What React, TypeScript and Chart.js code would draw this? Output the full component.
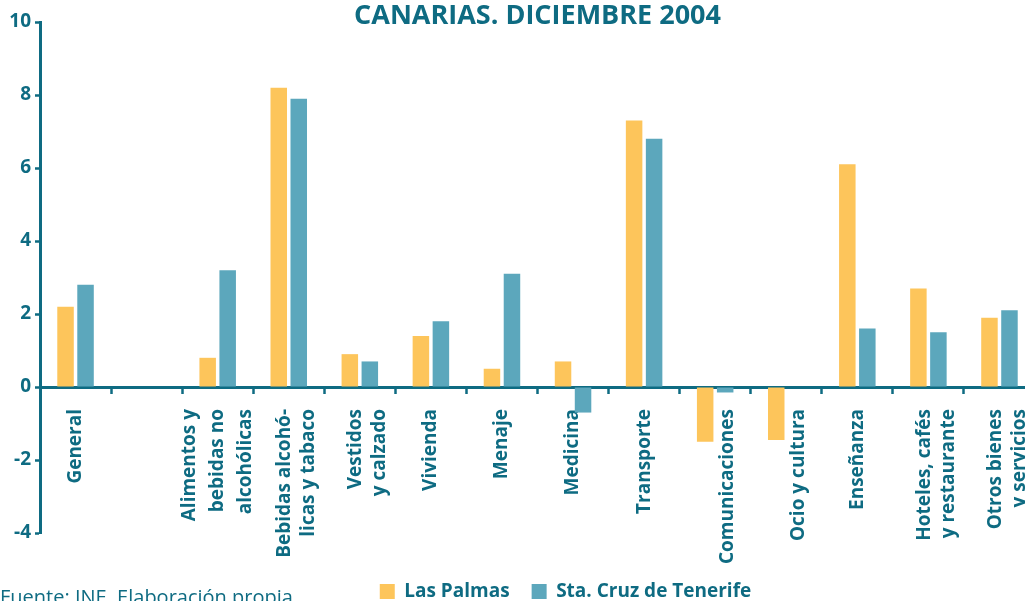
import { useEffect, useRef } from 'react';
import { Chart, registerables } from 'chart.js';

Chart.register(...registerables);

// ---- data ----
const categories: (string | string[])[] = [
  'General',
  '',
  ['Alimentos y', 'bebidas no', 'alcohólicas'],
  ['Bebidas alcohó-', 'licas y tabaco'],
  ['Vestidos', 'y calzado'],
  'Vivienda',
  'Menaje',
  'Medicina',
  'Transporte',
  'Comunicaciones',
  'Ocio y cultura',
  'Enseñanza',
  ['Hoteles, cafés', 'y restaurante'],
  ['Otros bienes', 'y servicios'],
];
const lasPalmas: (number | null)[] = [2.2, null, 0.8, 8.2, 0.9, 1.4, 0.5, 0.7, 7.3, -1.5, -1.45, 6.1, 2.7, 1.9];
const staCruz: (number | null)[] = [2.8, null, 3.2, 7.9, 0.7, 1.8, 3.1, -0.7, 6.8, -0.15, 0, 1.6, 1.5, 2.1];
const yTicks = [-4, -2, 0, 2, 4, 6, 8, 10];
const seriesNames = ['Las Palmas', 'Sta. Cruz de Tenerife'];
const titleText = 'CANARIAS. DICIEMBRE 2004';
const sourceText = 'Fuente: INE. Elaboración propia';

// ---- styles ----
const TEAL = '#0e6b82';
const YELLOW = '#fdc55b';
const BLUE = '#5ca7bc';
const FONT = "'Open Sans', 'Noto Sans', sans-serif";
const LABEL_LINE = 28;

// line spacing of the rotated category labels: two-line labels a bit tighter,
// single labels of categories whose first bar is negative are pushed past that bar
function labelLineHeight(i: number | undefined): number {
  if (i === undefined) return LABEL_LINE;
  const l = categories[i];
  const n = Array.isArray(l) ? l.length : 1;
  if (n === 2) return 24;
  if (n === 1 && (lasPalmas[i] ?? 0) < 0) return 40;
  return LABEL_LINE;
}

export default function App() {
  const ref = useRef<HTMLCanvasElement>(null);

  useEffect(() => {
    if (!ref.current) return;
    const chart = new Chart(ref.current, {
      type: 'bar',
      data: {
        labels: categories,
        datasets: [
          {
            label: seriesNames[0],
            data: lasPalmas,
            backgroundColor: YELLOW,
            borderWidth: 0,
            barPercentage: 0.825,
            categoryPercentage: 0.563,
          },
          {
            label: seriesNames[1],
            data: staCruz,
            backgroundColor: BLUE,
            borderWidth: 0,
            barPercentage: 0.825,
            categoryPercentage: 0.563,
          },
        ],
      },
      options: {
        responsive: false,
        animation: false,
        events: [],
        layout: { padding: 0 },
        scales: {
          x: {
            type: 'category',
            position: { y: 0 } as any,
            z: 1,
            offset: true,
            grid: {
              offset: true,
              drawOnChartArea: false,
              drawTicks: true,
              tickLength: 5,
              tickWidth: 2.5,
              tickColor: TEAL,
            },
            border: { display: true, color: TEAL, width: 3 },
            ticks: {
              autoSkip: false,
              maxRotation: 90,
              minRotation: 90,
              padding: 17,
              labelOffset: -LABEL_LINE,
              color: TEAL,
              font: (ctx: any) => ({
                family: FONT,
                size: 19,
                weight: 'bold',
                lineHeight: labelLineHeight(ctx && ctx.index) + 'px',
              }),
              callback: (_v: any, i: number) => {
                const l = categories[i];
                const lines = Array.isArray(l) ? l : [l];
                return lines.length >= 3 ? lines : ['', ...lines];
              },
            },
            afterFit: (s: any) => {
              s.height = 0;
            },
          },
          y: {
            position: 'left',
            min: yTicks[0],
            max: yTicks[yTicks.length - 1],
            z: 1,
            grid: {
              drawOnChartArea: false,
              drawTicks: true,
              tickLength: 5,
              tickWidth: 2.5,
              tickColor: TEAL,
            },
            border: { display: true, color: TEAL, width: 3 },
            ticks: {
              stepSize: 2,
              padding: 4,
              color: TEAL,
              font: { family: FONT, size: 19, weight: 'bold' },
            },
            afterBuildTicks: (s: any) => {
              s.ticks = yTicks.map((v) => ({ value: v }));
            },
            afterFit: (s: any) => {
              s.width = 40;
            },
          },
          spacer: {
            position: 'right',
            display: true,
            grid: { display: false },
            border: { display: false },
            ticks: { display: false },
            afterFit: (s: any) => {
              s.width = 96;
            },
          },
        },
        plugins: {
          tooltip: { enabled: false },
          title: {
            display: true,
            text: titleText,
            color: TEAL,
            fullSize: false,
            font: { family: FONT, size: 27, weight: 'bold', lineHeight: 1.2 },
            padding: { top: 0.5, bottom: -10.9 },
          },
          subtitle: {
            display: true,
            text: sourceText,
            position: 'bottom',
            align: 'start',
            fullSize: true,
            weight: 500,
            color: TEAL,
            font: { family: FONT, size: 20, weight: 'normal', lineHeight: 1.2 },
            padding: { top: 53, bottom: -50 },
          } as any,
          legend: {
            display: true,
            position: 'bottom',
            fullSize: true,
            labels: {
              boxWidth: 15,
              boxHeight: 15,
              padding: 22,
              color: TEAL,
              font: { family: FONT, size: 19, weight: 'bold' },
            },
          },
        },
      } as any,
    });
    return () => chart.destroy();
  }, []);

  return (
    <div
      style={{
        position: 'absolute',
        left: 0,
        top: 0,
        width: 1025,
        height: 601,
        overflow: 'hidden',
        background: '#ffffff',
      }}
    >
      <canvas ref={ref} width={1131} height={611} style={{ display: 'block' }} />
    </div>
  );
}
